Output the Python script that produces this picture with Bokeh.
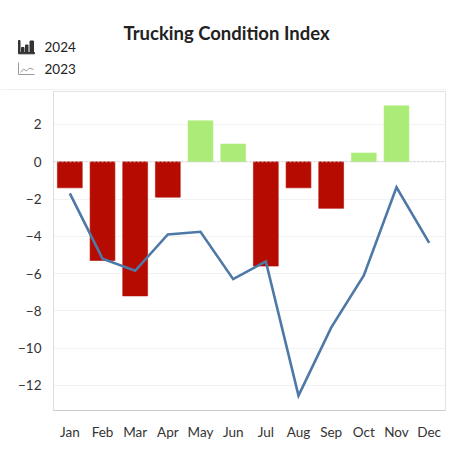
from bokeh.plotting import figure
from bokeh.models import Range1d, FactorRange, Span, FixedTicker, ColumnDataSource
from bokeh.layouts import column, row
from bokeh.embed import file_html
from bokeh.resources import INLINE
from bokeh.core.properties import value

months = ["Jan", "Feb", "Mar", "Apr", "May", "Jun", "Jul", "Aug", "Sep", "Oct", "Nov", "Dec"]
bar_months = ["Jan", "Feb", "Mar", "Apr", "May", "Jun", "Jul", "Aug", "Sep", "Oct", "Nov"]
values_2024 = [-1.4, -5.3, -7.2, -1.9, 2.2, 0.95, -5.6, -1.4, -2.5, 0.47, 3.0]
values_2023 = [-1.7, -5.2, -5.85, -3.9, -3.76, -6.3, -5.35, -12.55, -8.9, -6.1, -1.37, -4.35]
y_ticks = [2, 0, -2, -4, -6, -8, -10, -12]

RED = "#b50b00"
GREEN = "#abec78"
BLUE = "#4e79a7"
FONT = "Lato"

W = 446
# ---------- header (title + legend) ----------
HH = 90
head = figure(width=W, height=HH, x_range=Range1d(0, W), y_range=Range1d(HH, 0),
              output_backend="svg", toolbar_location=None, min_border=0,
              x_axis_location=None, y_axis_location=None)
head.grid.visible = False
head.outline_line_color = None
head.text(x=[226], y=[32], text=["Trucking Condition Index"], text_font=value(FONT),
          text_font_size="18.5px", text_font_style="bold", text_color="#222222",
          text_align="center", text_baseline="middle")
head.text(x=[44, 44], y=[46, 68], text=["2024", "2023"], text_font=value(FONT),
          text_font_size="13.5px", text_color="#222222", text_align="left", text_baseline="middle")
# bar icon (decorative)
head.quad(left=[18, 18], right=[19.5, 34], top=[40, 52], bottom=[52, 53.3], color="#333333")
head.quad(left=[21, 25, 29.5], right=[23.5, 27.5, 33], top=[47, 44.5, 40.5], bottom=[52, 52, 52], color="#333333")
# line icon (decorative)
head.line(x=[18, 18, 34], y=[62, 74, 74], line_color="#9a9a9a", line_width=1)
head.line(x=[20, 23, 26, 29, 33], y=[72, 68.5, 70.5, 67.5, 69], line_color="#9a9a9a", line_width=1)
# top border of the pane
head.line(x=[0, W], y=[HH - 0.5, HH - 0.5], line_color="#e2e2e2", line_width=1)

# ---------- main chart ----------
p = figure(width=W, height=352, x_range=FactorRange(*months, range_padding=0),
           y_range=Range1d(-13.35, 3.77), output_backend="svg", toolbar_location=None,
           min_border_left=53, min_border_right=1, min_border_top=1, min_border_bottom=22)

src24 = ColumnDataSource(dict(m=bar_months, v=values_2024,
                              c=[GREEN if v >= 0 else RED for v in values_2024]))
p.vbar(x="m", top="v", bottom=0, width=0.76, source=src24, fill_color="c", line_color="c",
       line_alpha=0.6)
p.line(x=months, y=values_2023, line_color=BLUE, line_width=2.6, line_join="miter")

p.add_layout(Span(location=0, dimension="width", line_color="#cfcfcf", line_dash="2 2", line_width=1))

p.yaxis.ticker = FixedTicker(ticks=y_ticks)
p.ygrid.ticker = FixedTicker(ticks=y_ticks)
p.ygrid.grid_line_color = "#f2f2f2"
p.xgrid.grid_line_color = None
p.outline_line_color = "#e2e2e2"

for ax in (p.xaxis, p.yaxis):
    ax.major_tick_line_color = None
    ax.minor_tick_line_color = None
    ax.major_label_text_font = FONT
    ax.major_label_text_font_size = "13.5px"
    ax.major_label_text_color = "#333333"
p.xaxis.axis_line_color = "#cccccc"
p.yaxis.axis_line_color = "#dddddd"
p.yaxis.major_label_standoff = 6
p.xaxis.major_label_standoff = 7

layout = column(row(head, spacing=0), p, spacing=0)
open("out.html", "w").write(file_html(layout, INLINE))
